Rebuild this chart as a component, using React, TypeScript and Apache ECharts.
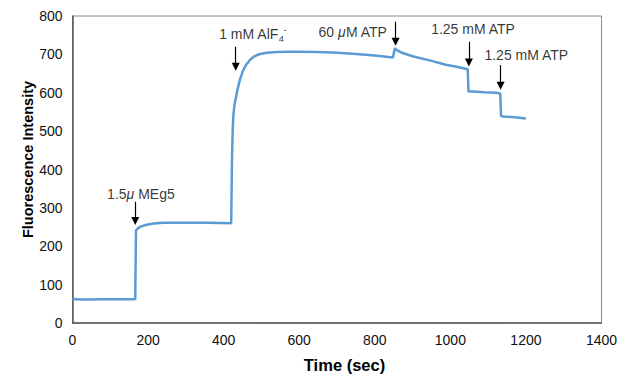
import React, { useEffect, useRef } from "react";
import * as echarts from "echarts";

// Trace (time in sec, fluorescence intensity)
const timeSec = [
  0, 40, 80, 120, 166, 168, 172, 180, 196, 215, 240, 300, 360, 420,
  422, 424, 426, 429, 433, 438, 444, 451, 459, 469, 481, 496, 515, 540,
  570, 600, 650, 700, 750, 800, 848, 853, 858, 870, 900, 950, 988, 1020,
  1046, 1048, 1060, 1090, 1120, 1132, 1134, 1140, 1170, 1200,
];
const intensity = [
  62, 61, 62, 62, 62, 241, 246, 251, 256, 259, 261, 261, 261, 260,
  420, 505, 545, 570, 590, 614, 637, 657, 672, 685, 695, 701, 704, 706,
  707, 707, 706, 704, 701, 697, 692, 716, 711, 705, 695, 683, 673, 667,
  661, 603, 603, 601, 600, 598, 540, 538, 536, 533,
];

// Annotations: arrow x, arrow top, arrow tip, label centre, label text
const annX = [166, 432, 855, 1049, 1133];
const annTop = [316, 720, 785, 733, 672];
const annTip = [266, 668, 733, 679, 618];
const labelX = [181, 477, 742, 1060, 1201];
const labelY = [336, 753, 759, 765, 698];
const labelText = [
  "1.5{i|\u03bc} MEg5",
  "1 mM AlF{sub|4}{sup|-}",
  "60 {i|\u03bc}M ATP",
  "1.25 mM ATP",
  "1.25 mM ATP",
];

const xTicks = { min: 0, max: 1400, interval: 200 };
const yTicks = { min: 0, max: 800, interval: 100 };

const FONT = "'Liberation Sans', Arial, Helvetica, sans-serif";

export default function App() {
  const ref = useRef<HTMLDivElement>(null);
  useEffect(() => {
    if (!ref.current) return;
    const chart = echarts.init(ref.current, undefined, { renderer: "svg" });
    const lineData = timeSec.map((t, i) => [t, intensity[i]]);
    const arrows = annX.map((x, i) => [
      { coord: [x, annTop[i]] },
      { coord: [x, annTip[i]] },
    ]);
    const labels = labelX.map((x, i) => ({
      value: [x, labelY[i]],
      label: { formatter: labelText[i] },
    }));
    const plain = (v: number) => String(v);
    chart.setOption({
      animation: false,
      textStyle: { fontFamily: FONT },
      grid: {
        left: 72.5,
        right: 17.5,
        top: 16,
        bottom: 53,
        containLabel: false,
        outerBoundsMode: "none",
        show: true,
        borderColor: "#8a8a8a",
        borderWidth: 1,
      },
      xAxis: {
        type: "value",
        min: xTicks.min,
        max: xTicks.max,
        interval: xTicks.interval,
        name: "Time (sec)",
        nameLocation: "middle",
        nameGap: 33,
        nameMoveOverlap: false,
        nameTextStyle: {
          fontFamily: FONT,
          fontWeight: "bold",
          fontSize: 16.5,
          color: "#000",
          padding: [0, 0, 0, 15],
        },
        axisLine: { show: true, lineStyle: { color: "#555", width: 1.5 } },
        axisTick: { show: false },
        splitLine: { show: false },
        axisLabel: { fontFamily: FONT, fontSize: 14, color: "#111", margin: 10, formatter: plain },
      },
      yAxis: {
        type: "value",
        min: yTicks.min,
        max: yTicks.max,
        interval: yTicks.interval,
        name: "Fluorescence Intensity",
        nameLocation: "middle",
        nameGap: 37,
        nameMoveOverlap: false,
        nameTextStyle: {
          fontFamily: FONT,
          fontWeight: "bold",
          fontSize: 14.5,
          color: "#000",
          padding: [0, 0, 0, 20],
        },
        axisLine: { show: true, lineStyle: { color: "#555", width: 1.5 } },
        axisTick: { show: false },
        splitLine: { show: false },
        axisLabel: { fontFamily: FONT, fontSize: 14, color: "#111", margin: 10, formatter: plain },
      },
      series: [
        {
          type: "line",
          data: lineData,
          showSymbol: false,
          symbol: "none",
          lineStyle: { color: "#5b9bd5", width: 2.5 },
          silent: true,
          markLine: {
            silent: true,
            symbol: ["none", "triangle"],
            symbolSize: 8,
            label: { show: false },
            lineStyle: { color: "#000", width: 1.2, type: "solid" },
            itemStyle: { color: "#000" },
            data: arrows,
          },
        },
        {
          type: "scatter",
          symbolSize: 0,
          silent: true,
          data: labels,
          label: {
            show: true,
            position: "inside",
            color: "#000",
            fontFamily: FONT,
            fontSize: 14,
            lineHeight: 18,
            rich: {
              i: { fontStyle: "italic", fontSize: 14, fontFamily: FONT, color: "#000", lineHeight: 18 },
              sub: { fontSize: 9, fontFamily: FONT, color: "#000", lineHeight: 9, verticalAlign: "bottom" },
              sup: { fontSize: 9, fontFamily: FONT, color: "#000", lineHeight: 9, verticalAlign: "top" },
            },
          },
        },
      ],
    });
    return () => chart.dispose();
  }, []);
  return <div ref={ref} style={{ width: 619, height: 376, position: "absolute", left: 0, top: 0 }} />;
}
